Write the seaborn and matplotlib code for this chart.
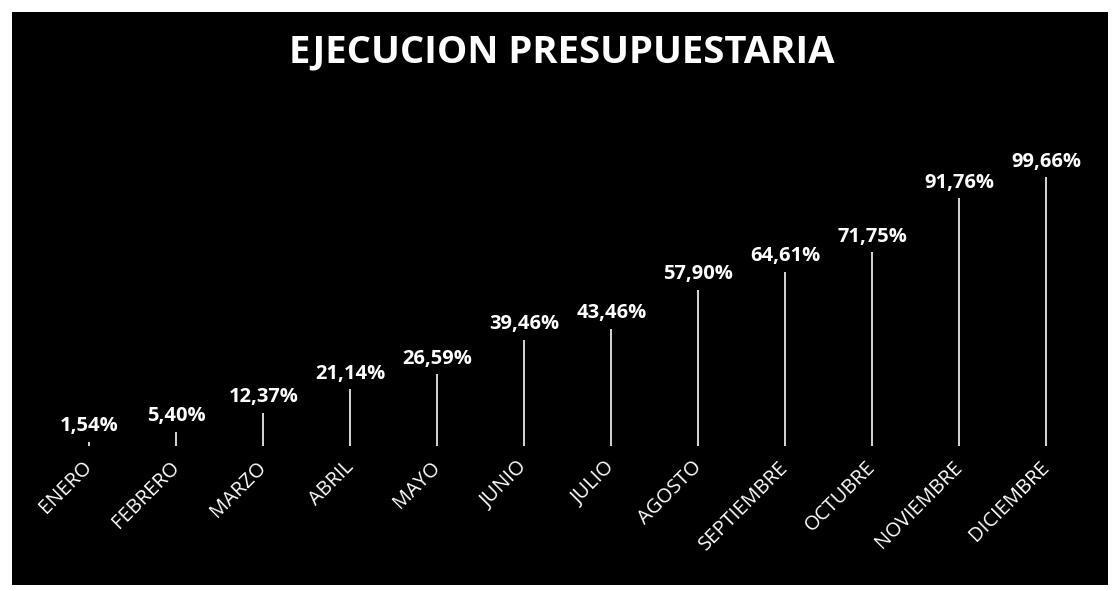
import matplotlib
matplotlib.use("Agg")
import matplotlib.pyplot as plt
import seaborn as sns
from matplotlib.patches import Rectangle

# data
meses = ["ENERO", "FEBRERO", "MARZO", "ABRIL", "MAYO", "JUNIO",
         "JULIO", "AGOSTO", "SEPTIEMBRE", "OCTUBRE", "NOVIEMBRE", "DICIEMBRE"]
ejecucion = [1.54, 5.40, 12.37, 21.14, 26.59, 39.46,
             43.46, 57.90, 64.61, 71.75, 91.76, 99.66]
etiquetas = ["1,54%", "5,40%", "12,37%", "21,14%", "26,59%", "39,46%",
             "43,46%", "57,90%", "64,61%", "71,75%", "91,76%", "99,66%"]

sns.set_style("dark")
plt.rcParams["font.family"] = ["Open Sans", "DejaVu Sans"]

fig = plt.figure(figsize=(11.19, 5.91), dpi=100, facecolor="white")
# black chart area of the scanned slide
fig.patches.append(Rectangle((0.011, 0.010), 0.979, 0.970, transform=fig.transFigure,
                             facecolor="black", edgecolor="none", zorder=-1))

ax = fig.add_axes([0.041, 0.245, 0.933, 0.5025])
ax.set_facecolor("none")
ax.set_zorder(2)

sns.barplot(x=meses, y=ejecucion, color="#d0d0d0", width=0.022, ax=ax,
            saturation=1, edgecolor="none")
ax.set_ylim(0, 110)
ax.set_xlim(-0.5, 11.5)

ax.bar_label(ax.containers[0], labels=etiquetas, padding=4, color="white",
             fontsize=14.5, fontweight="bold")

ax.set_xlabel("")
ax.set_ylabel("")
ax.set_yticks([])
ax.tick_params(axis="x", length=0, pad=13, colors="white")
for lbl in ax.get_xticklabels():
    lbl.set_rotation(45)
    lbl.set_ha("right")
    lbl.set_va("center")
    lbl.set_rotation_mode("anchor")
    lbl.set_fontsize(14.5)
    lbl.set_color("white")
for s in ax.spines.values():
    s.set_visible(False)
ax.grid(False)

fig.text(0.502, 0.912, "EJECUCION PRESUPUESTARIA", color="white", fontsize=27.5,
         fontweight="bold", ha="center", va="center", zorder=3)

fig.savefig("out.png", dpi=100, facecolor=fig.get_facecolor())
plt.close(fig)
